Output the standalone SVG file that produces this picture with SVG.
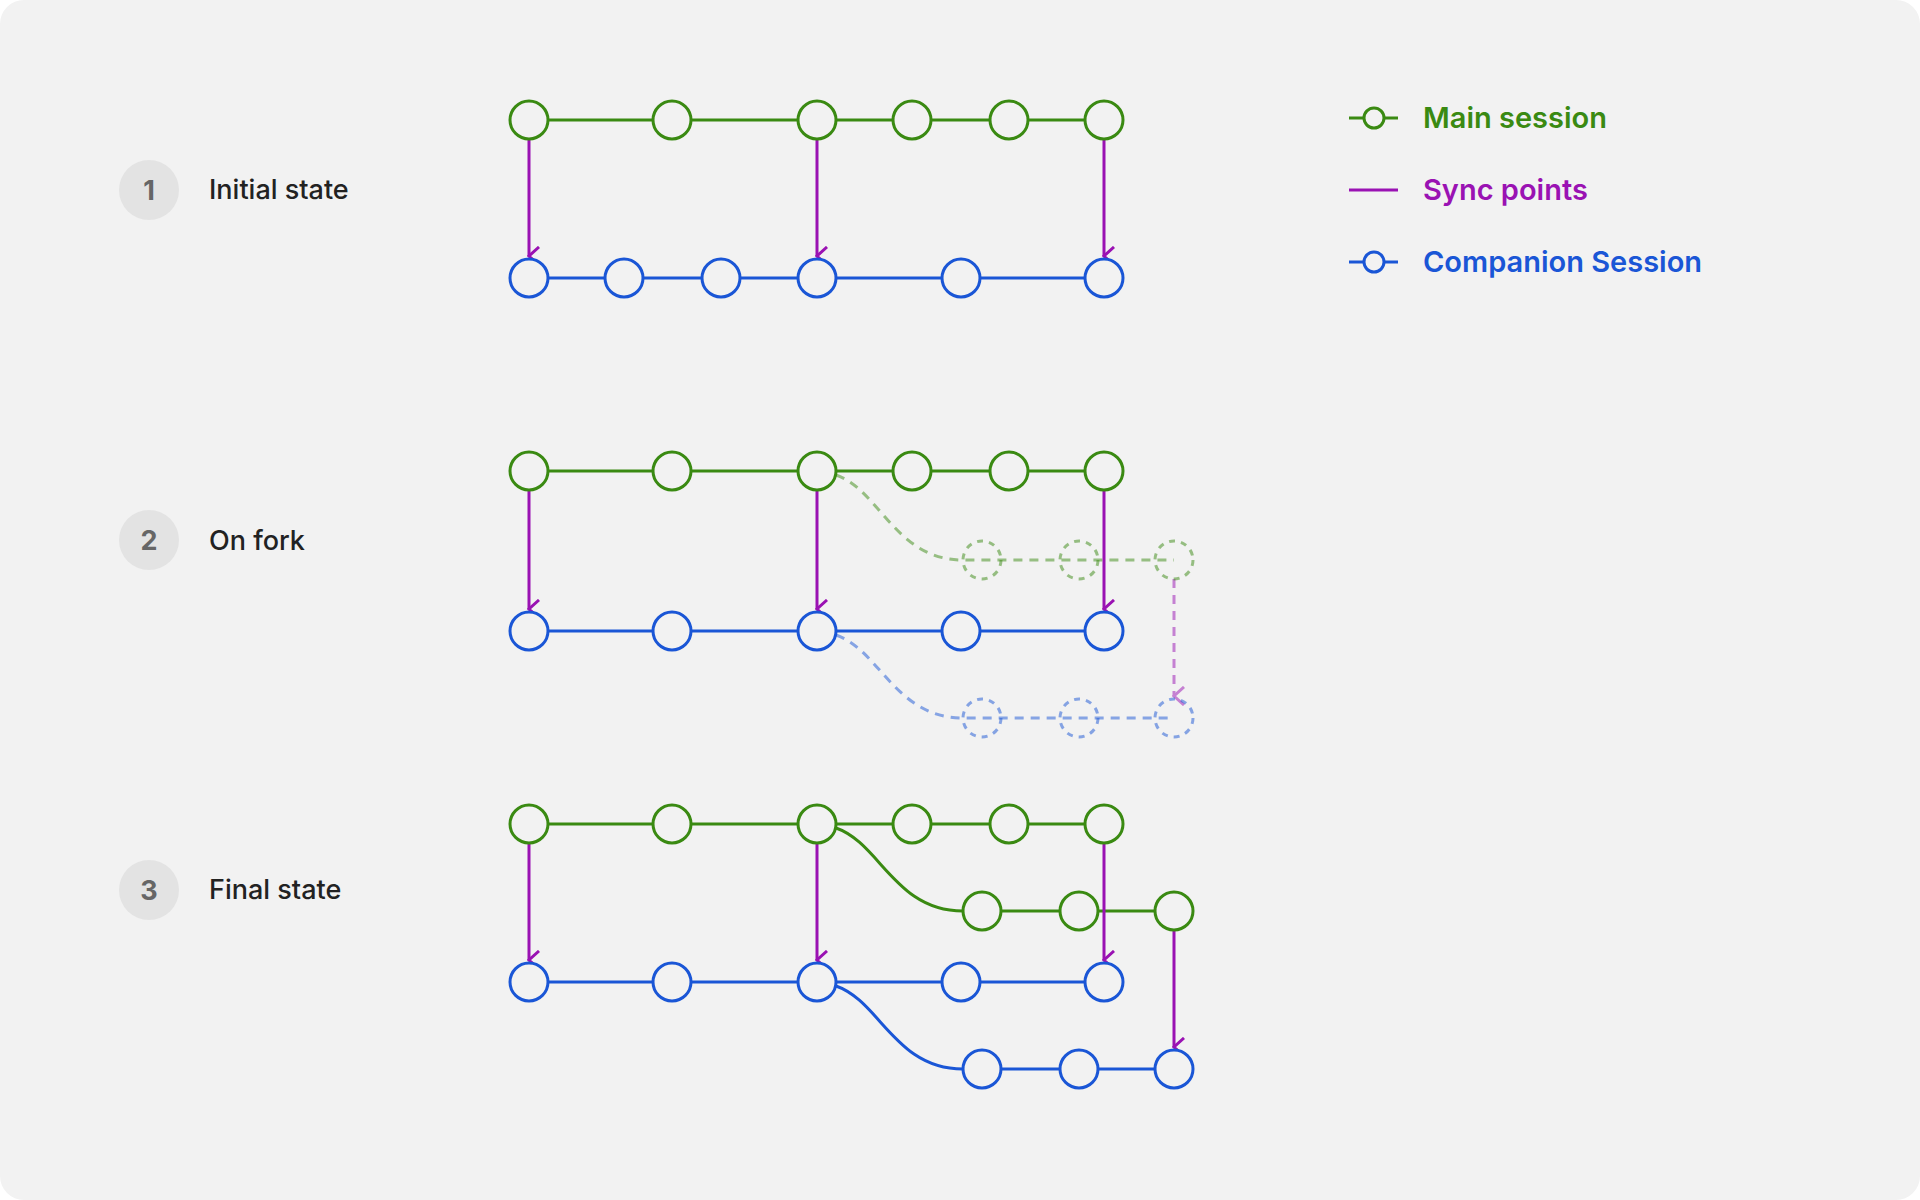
<svg xmlns="http://www.w3.org/2000/svg" width="1920" height="1200" viewBox="0 0 1920 1200">
<style>
.g{stroke:#3a8a12;stroke-width:3;fill:none}
.b{stroke:#1a56d6;stroke-width:3;fill:none}
.p{stroke:#9a12b3;stroke-width:3;fill:none}
.n{fill:#f2f2f2;stroke-width:3}
.ng{stroke:#3a8a12}
.nb{stroke:#1a56d6}
.d{stroke-dasharray:9 7;opacity:0.5}
.lbl{font-family:Inter,"Liberation Sans",sans-serif;font-size:27px;font-weight:500;fill:#222}
.num{font-family:Inter,"Liberation Sans",sans-serif;font-size:27px;font-weight:700;fill:#666;text-anchor:middle}
.leg{font-family:Inter,"Liberation Sans",sans-serif;font-size:29px;font-weight:600}
</style>
<defs>
<marker id="ah" viewBox="0 0 20 20" refX="10" refY="18" markerWidth="20" markerHeight="20" markerUnits="userSpaceOnUse" orient="auto-start-reverse">
<path d="M1,8 L10,18 L19,8" fill="none" stroke="#9a12b3" stroke-width="3"/>
</marker>
</defs>
<rect x="0" y="0" width="1920" height="1200" rx="24" fill="#f2f2f2"/>

<g id="labels">
<circle cx="149" cy="190" r="30" fill="#e3e3e3"/><text class="num" x="149" y="200">1</text><text class="lbl" x="209" y="199">Initial state</text>
<circle cx="149" cy="540" r="30" fill="#e3e3e3"/><text class="num" x="149" y="550">2</text><text class="lbl" x="209" y="550">On fork</text>
<circle cx="149" cy="890" r="30" fill="#e3e3e3"/><text class="num" x="149" y="900">3</text><text class="lbl" x="209" y="899">Final state</text>
</g>

<g id="legend">
<line class="g" x1="1349" y1="118" x2="1398" y2="118"/><circle class="n ng" cx="1374" cy="118" r="10"/>
<text class="leg" x="1423" y="128" fill="#3a8a12">Main session</text>
<line class="p" x1="1349" y1="190" x2="1398" y2="190"/>
<text class="leg" x="1423" y="200" fill="#9a12b3">Sync points</text>
<line class="b" x1="1349" y1="262" x2="1398" y2="262"/><circle class="n nb" cx="1374" cy="262" r="10"/>
<text class="leg" x="1423" y="272" fill="#1a56d6">Companion Session</text>
</g>

<g id="connectors">
<!-- row 1 -->
<line class="g" x1="529" y1="120" x2="1104" y2="120"/>
<line class="b" x1="529" y1="278" x2="1104" y2="278"/>
<line class="p" x1="529" y1="139" x2="529" y2="256" marker-end="url(#ah)"/>
<line class="p" x1="817" y1="139" x2="817" y2="256" marker-end="url(#ah)"/>
<line class="p" x1="1104" y1="139" x2="1104" y2="256" marker-end="url(#ah)"/>
<!-- row 2 -->
<line class="g" x1="529" y1="471" x2="1104" y2="471"/>
<line class="b" x1="529" y1="631" x2="1104" y2="631"/>
<path class="g d" d="M836,475 C880,490 895,560 963,560 L1174,560"/>
<path class="b d" d="M836,635 C880,650 895,718 963,718 L1174,718"/>
<line class="p" x1="529" y1="490" x2="529" y2="609" marker-end="url(#ah)"/>
<line class="p" x1="817" y1="490" x2="817" y2="609" marker-end="url(#ah)"/>
<line class="p" x1="1104" y1="490" x2="1104" y2="609" marker-end="url(#ah)"/>
<line class="p d" x1="1174" y1="579" x2="1174" y2="696" marker-end="url(#ah)"/>
<!-- row 3 -->
<line class="g" x1="529" y1="824" x2="1104" y2="824"/>
<line class="b" x1="529" y1="982" x2="1104" y2="982"/>
<path class="g" d="M836,828 C880,843 895,911 963,911 L1174,911"/>
<path class="b" d="M836,986 C880,1001 895,1069 963,1069 L1174,1069"/>
<line class="p" x1="529" y1="843" x2="529" y2="960" marker-end="url(#ah)"/>
<line class="p" x1="817" y1="843" x2="817" y2="960" marker-end="url(#ah)"/>
<line class="p" x1="1104" y1="843" x2="1104" y2="960" marker-end="url(#ah)"/>
<line class="p" x1="1174" y1="930" x2="1174" y2="1047" marker-end="url(#ah)"/>
</g>

<g id="nodes-row1">
<circle class="n ng" cx="529" cy="120" r="19"/><circle class="n ng" cx="672" cy="120" r="19"/><circle class="n ng" cx="817" cy="120" r="19"/><circle class="n ng" cx="912" cy="120" r="19"/><circle class="n ng" cx="1009" cy="120" r="19"/><circle class="n ng" cx="1104" cy="120" r="19"/>
<circle class="n nb" cx="529" cy="278" r="19"/><circle class="n nb" cx="624" cy="278" r="19"/><circle class="n nb" cx="721" cy="278" r="19"/><circle class="n nb" cx="817" cy="278" r="19"/><circle class="n nb" cx="961" cy="278" r="19"/><circle class="n nb" cx="1104" cy="278" r="19"/>
</g>
<g id="nodes-row2">
<circle class="n ng" cx="529" cy="471" r="19"/><circle class="n ng" cx="672" cy="471" r="19"/><circle class="n ng" cx="817" cy="471" r="19"/><circle class="n ng" cx="912" cy="471" r="19"/><circle class="n ng" cx="1009" cy="471" r="19"/><circle class="n ng" cx="1104" cy="471" r="19"/>
<circle class="n nb" cx="529" cy="631" r="19"/><circle class="n nb" cx="672" cy="631" r="19"/><circle class="n nb" cx="817" cy="631" r="19"/><circle class="n nb" cx="961" cy="631" r="19"/><circle class="n nb" cx="1104" cy="631" r="19"/>
<g fill="none" stroke-width="3" stroke-dasharray="6 6" opacity="0.5">
<circle stroke="#3a8a12" cx="982" cy="560" r="19"/><circle stroke="#3a8a12" cx="1079" cy="560" r="19"/><circle stroke="#3a8a12" cx="1174" cy="560" r="19"/>
<circle stroke="#1a56d6" cx="982" cy="718" r="19"/><circle stroke="#1a56d6" cx="1079" cy="718" r="19"/><circle stroke="#1a56d6" cx="1174" cy="718" r="19"/>
</g>
</g>
<g id="nodes-row3">
<circle class="n ng" cx="529" cy="824" r="19"/><circle class="n ng" cx="672" cy="824" r="19"/><circle class="n ng" cx="817" cy="824" r="19"/><circle class="n ng" cx="912" cy="824" r="19"/><circle class="n ng" cx="1009" cy="824" r="19"/><circle class="n ng" cx="1104" cy="824" r="19"/>
<circle class="n ng" cx="982" cy="911" r="19"/><circle class="n ng" cx="1079" cy="911" r="19"/><circle class="n ng" cx="1174" cy="911" r="19"/>
<circle class="n nb" cx="529" cy="982" r="19"/><circle class="n nb" cx="672" cy="982" r="19"/><circle class="n nb" cx="817" cy="982" r="19"/><circle class="n nb" cx="961" cy="982" r="19"/><circle class="n nb" cx="1104" cy="982" r="19"/>
<circle class="n nb" cx="982" cy="1069" r="19"/><circle class="n nb" cx="1079" cy="1069" r="19"/><circle class="n nb" cx="1174" cy="1069" r="19"/>
</g>
</svg>
